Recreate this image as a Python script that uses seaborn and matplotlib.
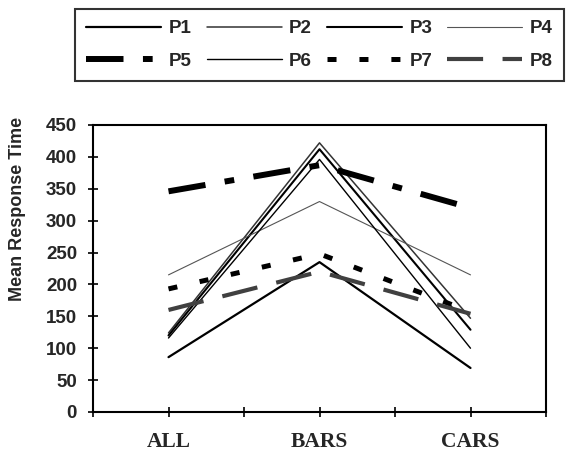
import matplotlib
matplotlib.use("Agg")
import matplotlib.pyplot as plt
import seaborn as sns
import pandas as pd
from matplotlib.lines import Line2D

# ---- data ----
categories = ["ALL", "BARS", "CARS"]
P1 = [86, 235, 69]
P2 = [124, 422, 147]
P3 = [120, 412, 129]
P4 = [215, 330, 215]
P5 = [346, 387, 320]
P6 = [116, 396, 100]
P7 = [193, 248, 157]
P8 = [160, 220, 154]
series_names = ["P1", "P2", "P3", "P4", "P5", "P6", "P7", "P8"]
series_values = [P1, P2, P3, P4, P5, P6, P7, P8]
y_ticks = [0, 50, 100, 150, 200, 250, 300, 350, 400, 450]

sns.set_theme(style="white")
plt.rcParams["lines.scale_dashes"] = False
plt.rcParams["font.family"] = ["Liberation Sans", "DejaVu Sans"]

cat_pos = {c: 1 + 2 * i for i, c in enumerate(categories)}
rows = []
for name, vals in zip(series_names, series_values):
    for c, v in zip(categories, vals):
        rows.append({"series": name, "cat": c, "x": cat_pos[c], "value": v})
df = pd.DataFrame(rows)

styles = {
    "P1": dict(color="black", lw=1.6, dashes=None),
    "P2": dict(color="#333333", lw=1.1, dashes=None),
    "P3": dict(color="black", lw=1.5, dashes=None),
    "P4": dict(color="#555555", lw=0.8, dashes=None),
    "P5": dict(color="black", lw=4.3, dashes=(27, 14, 7, 14)),
    "P6": dict(color="black", lw=1.0, dashes=None),
    "P7": dict(color="black", lw=3.6, dashes=(6.5, 16.5)),
    "P8": dict(color="#404040", lw=3.0, dashes=(26, 14)),
}

fig = plt.figure(figsize=(5.68, 4.54), dpi=100)
ax = fig.add_axes([93 / 568, 1 - 412 / 454, (546 - 93) / 568, (412 - 125) / 454])

handles = {}
for name in series_names:
    st = styles[name]
    sub = df[df["series"] == name]
    sns.lineplot(data=sub, x="x", y="value", ax=ax, color=st["color"],
                 linewidth=st["lw"], legend=False, sort=False)
    line = ax.get_lines()[-1]
    if st["dashes"] is not None:
        line.set_dashes(st["dashes"])
        line.set_dash_capstyle("butt")
    h = Line2D([], [], color=st["color"], lw=st["lw"])
    if st["dashes"] is not None:
        h.set_dashes(st["dashes"])
    handles[name] = h

ax.set_xlim(0, 6)
ax.set_ylim(0, 450)
ax.set_xticks([0, 1, 2, 3, 4, 5, 6])
ax.set_xticklabels(["", categories[0], "", categories[1], "", categories[2], ""],
                   fontfamily="Liberation Serif", fontweight="bold", fontsize=15.5)
ax.set_yticks(y_ticks)
ax.set_yticklabels([str(t) for t in y_ticks], fontweight="bold", fontsize=13.5)
ax.tick_params(axis="both", direction="inout", length=7, width=1.2, color="black",
               bottom=True, left=True)
ax.tick_params(axis="x", pad=11)
ax.tick_params(axis="y", pad=8)
ax.set_xlabel("")
ax.set_ylabel("Mean Response Time", fontweight="bold", fontsize=13)
ax.yaxis.set_label_coords((26 - 93) / 453, (412 - 209) / 287)
for s in ax.spines.values():
    s.set_color("black")
    s.set_linewidth(1.5)
    s.set_visible(True)

order = ["P1", "P5", "P2", "P6", "P3", "P7", "P4", "P8"]
leg = fig.legend([handles[n] for n in order], order, ncol=4,
                 loc="upper left", bbox_to_anchor=(75 / 568, 1 - 9 / 454),
                 frameon=True, fancybox=False, edgecolor="black",
                 prop={"weight": "bold", "size": 13.5},
                 handlelength=4.0, handletextpad=0.4, columnspacing=0.8,
                 borderpad=0.6, labelspacing=0.8, borderaxespad=0)
leg.get_frame().set_linewidth(1.5)

fig.savefig("out.png", dpi=100, facecolor="white")
